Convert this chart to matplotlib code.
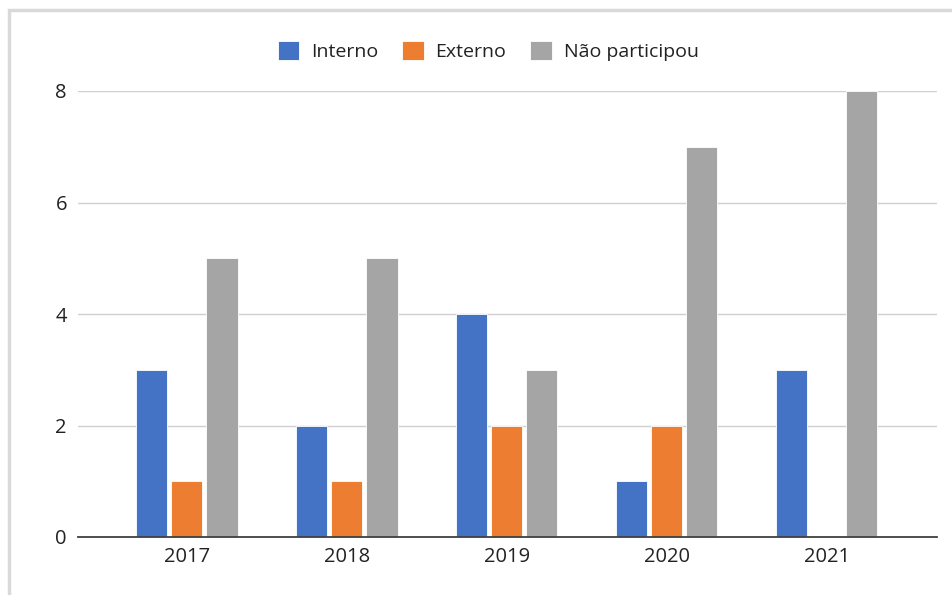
import matplotlib.pyplot as plt
import numpy as np
from matplotlib.patches import Rectangle

plt.rcParams['font.family'] = ['Open Sans', 'DejaVu Sans']

# data
anos = ['2017', '2018', '2019', '2020', '2021']
interno = [3, 2, 4, 1, 3]
externo = [1, 1, 2, 2, 0]
nao_participou = [5, 5, 3, 7, 8]

series = ['Interno', 'Externo', 'Não participou']
cores = ['#4472C4', '#ED7D31', '#A5A5A5']

fig = plt.figure(figsize=(9.52, 5.95), dpi=100)
ax = fig.add_axes([78 / 952, 58 / 595, 859 / 952, 446 / 595])

# light frame around the chart area
fig.patches.append(Rectangle((9 / 952, -0.05), 1.1, (585 / 595) + 0.05, transform=fig.transFigure,
                             fill=False, edgecolor='#d9d9d9', linewidth=2.5))

x = np.arange(len(anos))
largura = 0.195
passo = 0.22
for i, (vals, nome, cor) in enumerate(zip([interno, externo, nao_participou], series, cores)):
    ax.bar(x + (i - 1) * passo, vals, largura, color=cor, label=nome,
           edgecolor='white', linewidth=0.6, zorder=3, clip_on=False)

ax.set_xlim(-0.68, 4.69)
ax.set_ylim(0, 8)
ax.set_yticks([0, 2, 4, 6, 8])
ax.set_xticks(x)
ax.set_xticklabels(anos)
ax.grid(axis='y', color='#d0d0d0', linewidth=1, zorder=0)
for lado in ['top', 'right', 'left']:
    ax.spines[lado].set_visible(False)
ax.spines['bottom'].set_color('#404040')
ax.spines['bottom'].set_linewidth(1.3)
ax.spines['bottom'].set_zorder(4)
ax.tick_params(axis='both', length=0, labelsize=14.5, labelcolor='#222222')
ax.tick_params(axis='y', pad=8)
ax.tick_params(axis='x', pad=7)

ax.legend(loc='center', ncol=3, frameon=False, fontsize=14, handlelength=1.1, handleheight=1.1,
          columnspacing=1.25, handletextpad=0.6, labelcolor='#222222')
leg = ax.get_legend()
leg.set_bbox_to_anchor((488 / 952, 1 - 51 / 595), transform=fig.transFigure)

fig.savefig('out.png', dpi=100)
